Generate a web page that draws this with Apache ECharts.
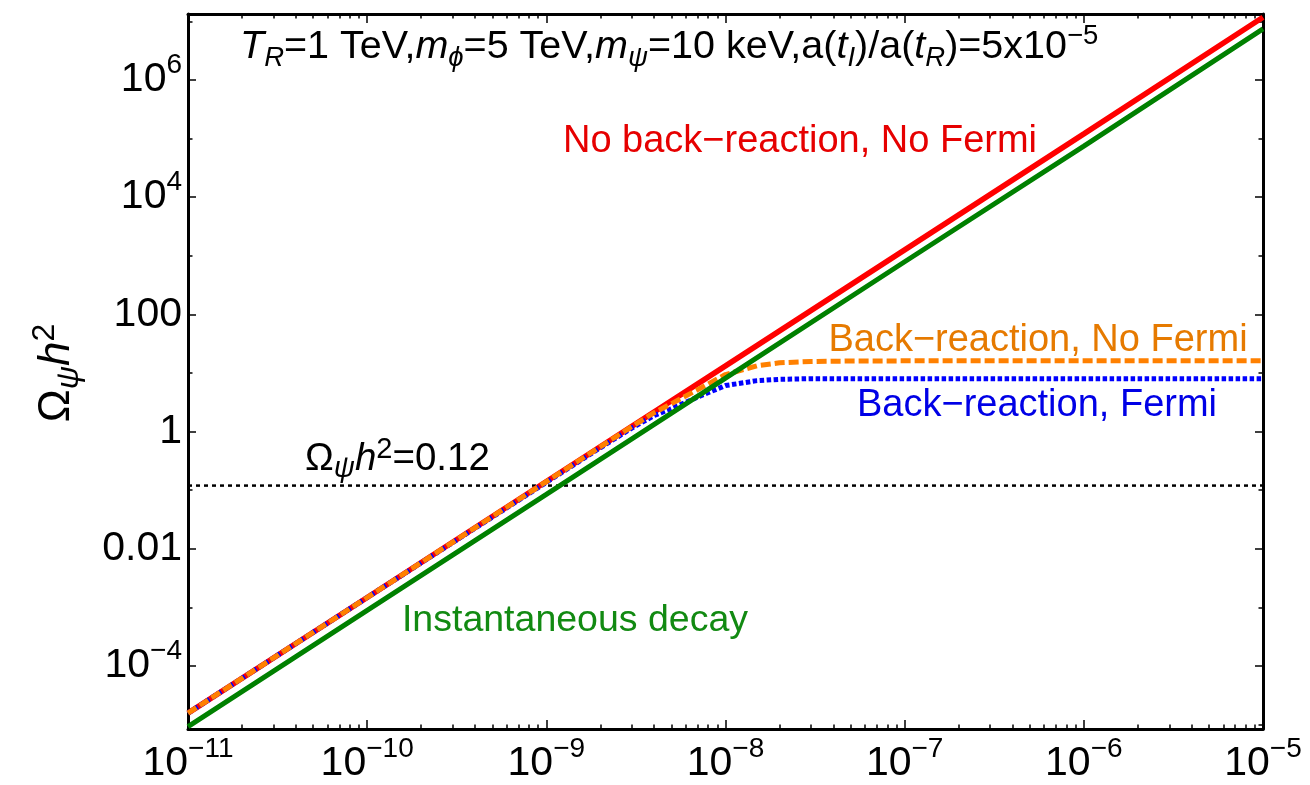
<!DOCTYPE html>
<html><head><meta charset="utf-8">
<script src="https://cdn.jsdelivr.net/npm/echarts@6/dist/echarts.min.js"></script>
<style>html,body{margin:0;padding:0;background:#fff}#c{width:1310px;height:785px}</style>
</head><body><div id="c"></div>
<script>
// ---- data ----
const xDecades = [1e-11, 1e-10, 1e-9, 1e-8, 1e-7, 1e-6, 1e-5];
const yMajorTicks = [1e-4, 1e-2, 1, 1e2, 1e4, 1e6];
const yMinorTicks = [1e-5, 1e-3, 1e-1, 1e1, 1e3, 1e5, 1e7];
const yTickLabels = ['10^−4', '0.01', '1', '100', '10^4', '10^6'];

const noBackX = [1e-11, 1e-10, 1e-9, 1e-8, 1e-7, 1e-6, 1e-5];
const noBackY = [1.58e-5, 1.48e-3, 0.141, 13.2, 1.26e3, 1.2e5, 1.17e7];

const instX = [1e-11, 1e-10, 1e-9, 1e-8, 1e-7, 1e-6, 1e-5];
const instY = [9.3e-6, 8.9e-4, 0.085, 8.2, 790, 7.4e4, 7.4e6];

const backNoFermiX = [1e-11, 1e-10, 1e-9, 2e-9, 3e-9, 4e-9, 5e-9, 7e-9, 1e-8, 1.5e-8, 2e-8, 3e-8, 5e-8, 1e-7, 1e-6, 1e-5];
const backNoFermiY = [1.58e-5, 1.48e-3, 0.14, 0.55, 1.22, 2.1, 3.0, 5.2, 9.4, 13.3, 14.9, 15.7, 16.0, 16.1, 16.1, 16.1];

const backFermiX = [1e-11, 1e-10, 1e-9, 2e-9, 3e-9, 4e-9, 5e-9, 7e-9, 1e-8, 1.5e-8, 2e-8, 3e-8, 5e-8, 1e-7, 1e-6, 1e-5];
const backFermiY = [1.58e-5, 1.48e-3, 0.136, 0.53, 1.15, 1.88, 2.47, 3.9, 6.1, 7.4, 7.8, 8.0, 8.0, 8.0, 8.0, 8.0];

const omegaRefX = [1e-11, 1e-5];
const omegaRefY = [0.12, 0.12];

const yMin = 8.45e-6, yMax = 1.33e7;

// ---- chart ----
const FONT = '"Liberation Sans", Arial, Helvetica, sans-serif';
const pairs = (xs, ys) => xs.map((x, i) => [x, ys[i]]);
const exp10 = v => Math.round(Math.log10(v));
// minor tick positions 2..9 in every decade of the x range
const xMinorTicks = [];
for (let d = 0; d < xDecades.length - 1; d++) for (let k = 2; k <= 9; k++) xMinorTicks.push(+(k * xDecades[d]).toPrecision(3));

function supLabel(s) {
  const p = s.split('^');
  return p.length > 1 ? '{b|' + p[0] + '}{s|' + p[1] + '}' : '{b|' + s + '}';
}
const richAxis = {
  b: { fontSize: 41, lineHeight: 58, fontFamily: FONT, color: '#000' },
  s: { fontSize: 28, lineHeight: 28, verticalAlign: 'top', fontFamily: FONT, color: '#000' }
};

const blackLine = { color: '#000', width: 3 };
function xAx(pos, ticks, len, labels, line) {
  return {
    type: 'log', logBase: 10, min: 1e-11, max: 1e-5, position: pos,
    axisLine: { show: line, onZero: false, lineStyle: blackLine },
    axisTick: { show: true, inside: true, length: len, customValues: ticks, lineStyle: { color: '#000', width: 1.5 } },
    splitLine: { show: false },
    axisLabel: labels ? {
      show: true, margin: 6, rich: richAxis, customValues: ticks,
      formatter: v => { const e = exp10(v); return '{b|10}{s|' + (e < 0 ? '−' : '') + Math.abs(e) + '}'; }
    } : { show: false }
  };
}
function yAx(pos, ticks, len, labels, line) {
  return {
    type: 'log', logBase: 10, min: yMin, max: yMax, position: pos,
    axisLine: { show: line, onZero: false, lineStyle: blackLine },
    axisTick: { show: true, inside: true, length: len, customValues: ticks, lineStyle: { color: '#000', width: 1.5 } },
    splitLine: { show: false },
    axisLabel: labels ? {
      show: true, margin: 6, rich: richAxis, customValues: ticks,
      formatter: v => { const i = yMajorTicks.findIndex(t => exp10(t) === exp10(v)); return i >= 0 ? supLabel(yTickLabels[i]) : ''; }
    } : { show: false }
  };
}

const chart = echarts.init(document.getElementById('c'), null, { renderer: 'canvas' });
const lineSeries = (name, xs, ys, color, width, type) => ({
  name, type: 'line', xAxisIndex: 0, yAxisIndex: 0, data: pairs(xs, ys), showSymbol: false, symbol: 'none',
  lineStyle: { color, width, type, cap: 'butt' }, animation: false, silent: true, clip: true
});

chart.setOption({
  animation: false,
  backgroundColor: '#fff',
  grid: { left: 188, right: 47, top: 14, bottom: 56, containLabel: false },
  xAxis: [
    xAx('bottom', xDecades, 9, true, true), xAx('bottom', xMinorTicks, 4.5, false, false),
    xAx('top', xDecades, 9, false, true), xAx('top', xMinorTicks, 4.5, false, false)
  ],
  yAxis: [
    yAx('left', yMajorTicks, 8, true, true), yAx('left', yMinorTicks, 4.5, false, false),
    yAx('right', yMajorTicks, 8, false, true), yAx('right', yMinorTicks, 4.5, false, false)
  ],
  series: [
    lineSeries('Ωh2=0.12', omegaRefX, omegaRefY, '#000', 2.5, [4, 4]),
    lineSeries('No back-reaction, No Fermi', noBackX, noBackY, '#ff0000', 5.5, 'solid'),
    lineSeries('Back-reaction, Fermi', backFermiX, backFermiY, '#0000ff', 5, [4.5, 2.5]),
    lineSeries('Back-reaction, No Fermi', backNoFermiX, backNoFermiY, '#ff8000', 5, [10, 4]),
    lineSeries('Instantaneous decay', instX, instY, '#008000', 5, 'solid')
  ],
  graphic: [
    { type: 'text', x: 240, y: 47, style: {
      text: '{i|T}{sub|R}{n|=1 TeV,}{i|m}{sub|ϕ}{n|=5 TeV,}{i|m}{sub|ψ}{n|=10 keV,a(}{i|t}{sub|I}{n|)/a(}{i|t}{sub|R}{n|)=5x10}{sup|−5}',
      align: 'left', verticalAlign: 'middle', fill: '#000',
      rich: {
        n: { fontSize: 39.5, lineHeight: 50, fontFamily: FONT },
        i: { fontSize: 39.5, lineHeight: 50, fontFamily: FONT, fontStyle: 'italic' },
        sub: { fontSize: 27.5, lineHeight: 27, verticalAlign: 'bottom', fontFamily: FONT, fontStyle: 'italic' },
        sup: { fontSize: 27.5, lineHeight: 27, verticalAlign: 'top', fontFamily: FONT }
      } } },
    { type: 'text', x: 800, y: 142, style: { text: 'No back−reaction, No Fermi', font: '38px ' + FONT, fill: '#e60000', align: 'center', verticalAlign: 'middle' } },
    { type: 'text', x: 1038, y: 341, style: { text: 'Back−reaction, No Fermi', font: '38px ' + FONT, fill: '#e67a00', align: 'center', verticalAlign: 'middle' } },
    { type: 'text', x: 1037, y: 406, style: { text: 'Back−reaction, Fermi', font: '38px ' + FONT, fill: '#0000e6', align: 'center', verticalAlign: 'middle' } },
    { type: 'text', x: 575, y: 621, style: { text: 'Instantaneous decay', font: '37.5px ' + FONT, fill: '#128a12', align: 'center', verticalAlign: 'middle' } },
    { type: 'text', x: 305, y: 459, style: {
      text: '{n|Ω}{sub|ψ}{i|h}{sup|2}{n|=0.12}', align: 'left', verticalAlign: 'middle', fill: '#000',
      rich: {
        n: { fontSize: 38.5, lineHeight: 48, fontFamily: FONT },
        i: { fontSize: 38.5, lineHeight: 48, fontFamily: FONT, fontStyle: 'italic' },
        sub: { fontSize: 29, lineHeight: 28, verticalAlign: 'bottom', fontFamily: FONT, fontStyle: 'italic' },
        sup: { fontSize: 29, lineHeight: 28, verticalAlign: 'top', fontFamily: FONT }
      } } },
    { type: 'text', x: 57, y: 373, rotation: Math.PI / 2, style: {
      text: '{n|Ω}{sub|ψ}{i|h}{sup|2}', align: 'center', verticalAlign: 'middle', fill: '#000',
      rich: {
        n: { fontSize: 44, lineHeight: 56, fontFamily: FONT },
        i: { fontSize: 44, lineHeight: 56, fontFamily: FONT, fontStyle: 'italic' },
        sub: { fontSize: 32, lineHeight: 32, verticalAlign: 'bottom', fontFamily: FONT, fontStyle: 'italic' },
        sup: { fontSize: 32, lineHeight: 32, verticalAlign: 'top', fontFamily: FONT }
      } } }
  ]
});
</script></body></html>
